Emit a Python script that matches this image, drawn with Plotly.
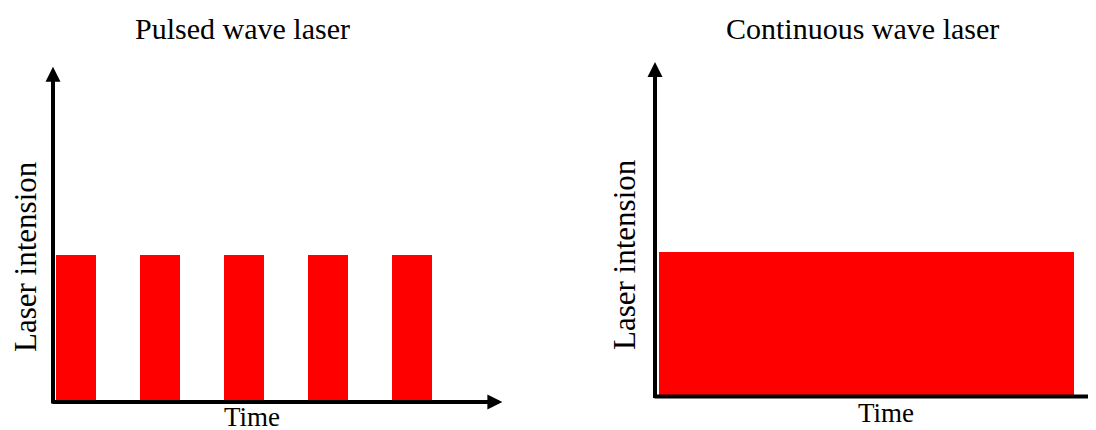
import plotly.graph_objects as go

# ---- data ----
titles = ["Pulsed wave laser", "Continuous wave laser"]
x_label = "Time"
y_label = "Laser intension"

pulse_times = [0.55, 2.55, 4.55, 6.55, 8.55]      # pulse centres (time units)
pulse_intensity = [1.0, 1.0, 1.0, 1.0, 1.0]
pulse_width = 0.97

cw_start = 0.095
cw_end = 9.98
cw_intensity = 1.0

# axis arrow extents (time, intensity)
left_axis_end = [10.7, 2.28]
right_axis_end = [10.71, 2.307]

# the page body has an 8px margin; the figure is sized to fill the rest of the window
OFF = 8
W, H = 1096 - OFF, 430 - OFF
RED = "#FF0000"

fig = go.Figure()

fig.add_trace(go.Bar(
    x=pulse_times, y=pulse_intensity, width=[pulse_width] * len(pulse_times),
    base=0, marker=dict(color=RED, line=dict(width=0)),
    xaxis="x", yaxis="y", showlegend=False, hoverinfo="skip",
))
fig.add_trace(go.Bar(
    x=[(cw_start + cw_end) / 2], y=[cw_intensity], width=[cw_end - cw_start],
    base=0, marker=dict(color=RED, line=dict(width=0)),
    xaxis="x2", yaxis="y2", showlegend=False, hoverinfo="skip",
))

# axis origins in window pixels, and pixels per unit
lx0, ly0, lpx, lpy = 53.0 - OFF, 402.0 - OFF, 42.0, 147.0
rx0, ry0, rpx, rpy = 655.0 - OFF, 396.5 - OFF, 42.0, 145.0
split = 548 - OFF
fs = split / W

fig.update_layout(
    width=W, height=H,
    margin=dict(l=0, r=0, t=0, b=0),
    paper_bgcolor="white", plot_bgcolor="white",
    bargap=0,
    xaxis=dict(domain=[0, fs], range=[-lx0 / lpx, (split - lx0) / lpx], visible=False, fixedrange=True),
    yaxis=dict(domain=[0, 1], range=[-(H - ly0) / lpy, ly0 / lpy], visible=False, fixedrange=True),
    xaxis2=dict(domain=[fs, 1], range=[-(rx0 - split) / rpx, (W - rx0) / rpx], visible=False, fixedrange=True),
    yaxis2=dict(domain=[0, 1], range=[-(H - ry0) / rpy, ry0 / rpy], visible=False, fixedrange=True, anchor="x2"),
    showlegend=False,
)

annotations = []

def arrow(xref, yref, x, y, ax, ay):
    return dict(
        xref=xref, yref=yref, axref=xref, ayref=yref,
        x=x, y=y, ax=ax, ay=ay, text="", showarrow=True,
        arrowhead=2, arrowsize=0.75, arrowwidth=4, arrowcolor="black",
    )

# left axes
annotations.append(arrow("x", "y", 0, left_axis_end[1], 0, -0.02))
annotations.append(arrow("x", "y", left_axis_end[0], 0, -0.05, 0))
# right axes
annotations.append(arrow("x2", "y2", 0, right_axis_end[1], 0, -0.02))
annotations.append(arrow("x2", "y2", right_axis_end[0], 0, -0.05, 0))

serif = "Liberation Serif, Times New Roman, serif"

def txt(text, px, py, size, angle=0):
    # px, py are window pixel positions
    return dict(
        xref="paper", yref="paper", x=(px - OFF) / W, y=1 - (py - OFF) / H,
        xanchor="center", yanchor="middle", text=text, showarrow=False,
        textangle=angle, font=dict(family=serif, size=size, color="black"),
    )

annotations.append(txt(titles[0], 242, 28, 30))
annotations.append(txt(titles[1], 862, 28, 30))
annotations.append(txt(y_label, 25, 257, 31, -90))
annotations.append(txt(y_label, 624, 255, 31, -90))
annotations.append(txt(x_label, 252, 417, 27))
annotations.append(txt(x_label, 886, 413, 27))

fig.update_layout(annotations=annotations)

fig.write_html("out.html")
